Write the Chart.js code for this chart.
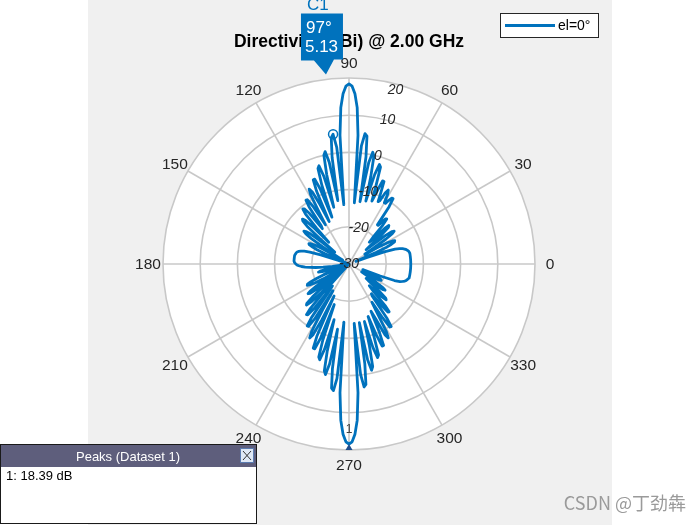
<!DOCTYPE html>
<html>
<head>
<meta charset="utf-8">
<script src="https://cdn.jsdelivr.net/npm/chart.js@4.4.1/dist/chart.umd.min.js"></script>
<style>
  html, body { margin: 0; padding: 0; background: #fff; }
  #wrap { position: relative; width: 700px; height: 525px; }
</style>
</head>
<body>
<div id="wrap"><canvas id="polar" width="700" height="525"></canvas></div>
<script>
// directivity in dBi, one value per degree, starting at 0 deg
const directivity = [
  -13.4, -13.4, -13.4, -13.4, -13.4, -13.4, -13.4, -13.4, -13.4, -13.4,   // 0
  -13.4, -13.5, -13.6, -13.8, -14.1, -14.5, -15.0, -15.8, -17.0, -20.0,   // 10
  -25.0, -28.0, -26.5, -22.0, -19.1, -17.4, -16.4, -16.2, -16.8, -18.3,   // 20
  -21.3, -25.0, -25.0, -22.5, -18.1, -15.8, -15.0, -15.5, -17.5, -22.3,   // 30
  -24.0, -22.4, -17.8, -15.5, -15.1, -16.5, -20.7, -22.0, -20.5, -16.2,   // 40
  -14.2, -14.4, -15.8, -17.0, -17.0, -11.2, -8.8, -8.9, -9.8, -11.0,      // 50
  -11.0, -8.6, -7.5, -8.6, -11.1, -11.5, -8.9, -5.9, -5.9, -9.2,          // 60
  -12.0, -7.7, -2.6, -2.0, -5.0, -12.5, -5.8, -0.2, 0.7, -2.3,            // 70
  -13.0, -0.8, 4.7, 5.3, 1.9, -13.5, 4.7, 12.1, 15.8, 17.8,               // 80
  18.4, 17.8, 15.8, 12.1, 4.7, -14.0, 1.5, 5.13, 4.3, -1.0,               // 90
  -12.7, -2.1, 0.9, 0.0, -5.2, -14.2, -5.4, -2.4, -3.0, -7.6,             // 100
  -16.6, -8.4, -5.4, -5.4, -8.6, -17.4, -12.2, -8.3, -7.2, -8.7,          // 110
  -14.2, -17.7, -11.6, -9.4, -9.3, -11.3, -17.3, -18.1, -12.8, -10.9,     // 120
  -10.7, -12.2, -16.9, -22.0, -16.6, -13.4, -12.6, -13.0, -14.9, -19.6,   // 130
  -25.0, -20.4, -16.8, -15.5, -15.0, -15.8, -17.7, -21.6, -28.0, -25.7,   // 140
  -21.9, -19.5, -18.4, -17.9, -18.1, -19.2, -20.6, -23.0, -26.8, -30.0,   // 150
  -30.0, -27.0, -22.0, -19.0, -17.5, -16.6, -16.0, -15.7, -15.5, -15.4,   // 160
  -15.3, -15.2, -15.2, -15.2, -15.2, -15.2, -15.2, -15.2, -15.3, -15.5,   // 170
  -15.7, -16.0, -16.5, -17.2, -18.2, -19.5, -21.0, -23.0, -25.5, -28.0,   // 180
  -30.0, -30.0, -27.0, -24.0, -22.0, -21.5, -22.5, -25.0, -28.0, -30.0,   // 190
  -30.0, -30.0, -26.3, -22.5, -20.3, -18.6, -17.6, -17.4, -18.0, -19.5,   // 200
  -22.0, -26.9, -30.0, -23.4, -19.5, -17.2, -16.4, -16.9, -18.8, -23.0,   // 210
  -30.0, -22.0, -16.8, -14.5, -14.1, -15.5, -19.5, -29.1, -19.7, -14.2,   // 220
  -12.2, -12.4, -15.1, -22.6, -20.4, -12.4, -9.9, -10.0, -12.8, -21.6,    // 230
  -15.8, -9.3, -7.5, -8.6, -13.3, -20.5, -8.9, -5.4, -5.4, -8.6,          // 240
  -18.4, -8.4, -3.7, -3.1, -6.1, -14.5, -5.7, -0.5, 0.4, -2.6,            // 250
  -12.2, -1.5, 3.7, 4.3, 0.9, -14.3, 4.7, 12.1, 15.8, 17.8,               // 260
  18.39, 17.8, 15.8, 12.1, 4.7, -14.0, -0.1, 3.3, 2.7, -2.8,              // 270
  -14.0, -3.8, -0.8, -1.7, -7.3, -14.0, -6.7, -3.7, -4.3, -9.4,           // 280
  -15.0, -9.8, -6.2, -6.2, -9.9, -16.0, -13.4, -8.6, -7.5, -9.4,          // 290
  -15.5, -18.0, -12.9, -9.8, -9.7, -12.3, -19.4, -20.0, -16.2, -13.4,     // 300
  -13.2, -15.2, -20.4, -22.0, -20.4, -17.5, -16.1, -16.5, -18.8, -22.8,   // 310
  -24.0, -23.5, -20.5, -18.5, -18.0, -18.8, -21.1, -24.7, -26.0, -26.0,   // 320
  -24.4, -22.4, -20.9, -20.3, -20.5, -21.5, -23.2, -25.4, -26.0, -21.0,   // 330
  -17.0, -15.5, -14.8, -14.3, -14.0, -13.8, -13.6, -13.4, -13.4, -13.4,   // 340
  -13.4, -13.4, -13.4, -13.4, -13.4, -13.4, -13.4, -13.4, -13.4, -13.4    // 350
];
const angleTicks = [0, 30, 60, 90, 120, 150, 180, 210, 240, 270, 300, 330];
const radialTicks = [-30, -20, -10, 0, 10, 20];
const seriesName = 'el=0°';
const chartTitle = 'Directivity (dBi) @ 2.00 GHz';
const cursorAngle = 97;   // data cursor C1
const peakAngle = 270;    // peak marker 1
const tickLabelAngle = 75;

const blue = '#0072BD';
const gridGray = '#c8c8c8';
const textColor = '#262626';

// radar goes clockwise from the top; the polar pattern has 90 on top and turns counter-clockwise
const indexOf = a => (450 - a) % 360;
const order = Array.from({ length: 360 }, (_, i) => (450 - i) % 360);
const labels = order.map(a => String(a));
const values = order.map(a => directivity[a]);

const polarDecor = {
  id: 'polarDecor',
  beforeDraw(chart) {
    const ctx = chart.ctx;
    ctx.save();
    ctx.fillStyle = '#ffffff';
    ctx.fillRect(0, 0, chart.width, chart.height);
    ctx.fillStyle = '#f0f0f0';
    ctx.fillRect(88, 0, 524, chart.height);
    ctx.restore();
  },
  afterDraw(chart) {
    const ctx = chart.ctx;
    const r = chart.scales.r;
    ctx.save();

    // angle labels
    ctx.fillStyle = textColor;
    ctx.font = '15.5px "Liberation Sans", Arial, sans-serif';
    ctx.textAlign = 'center';
    ctx.textBaseline = 'middle';
    angleTicks.forEach(a => {
      const p = r.getPointPosition(indexOf(a), r.drawingArea + 15);
      ctx.fillText(String(a), p.x, p.y + 1);
    });

    // radial tick labels
    ctx.font = 'italic 14px "Liberation Sans", Arial, sans-serif';
    radialTicks.forEach(v => {
      const d = Math.min(r.getDistanceFromCenterForValue(v), r.drawingArea - 6);
      const p = r.getPointPosition(indexOf(tickLabelAngle), d);
      ctx.fillText(String(v), p.x, p.y);
    });

    // title
    ctx.fillStyle = '#000';
    ctx.font = 'bold 17.5px "Liberation Sans", Arial, sans-serif';
    ctx.fillText(chartTitle, r.xCenter, 42);

    // legend
    ctx.fillStyle = '#fff';
    ctx.fillRect(500.5, 13.5, 98, 24);
    ctx.strokeStyle = '#262626';
    ctx.lineWidth = 1;
    ctx.strokeRect(500.5, 13.5, 98, 24);
    ctx.strokeStyle = blue;
    ctx.lineWidth = 2.8;
    ctx.beginPath();
    ctx.moveTo(505, 25.5);
    ctx.lineTo(555, 25.5);
    ctx.stroke();
    ctx.fillStyle = '#000';
    ctx.font = '14px "Liberation Sans", Arial, sans-serif';
    ctx.textAlign = 'left';
    ctx.fillText(seriesName, 558, 26);

    // data cursor C1
    const cv = directivity[cursorAngle];
    const mp = r.getPointPositionForValue(indexOf(cursorAngle), cv);
    ctx.strokeStyle = blue;
    ctx.lineWidth = 1.5;
    ctx.beginPath();
    ctx.arc(mp.x, mp.y, 4.5, 0, Math.PI * 2);
    ctx.stroke();

    const tip = r.getPointPosition(indexOf(cursorAngle), r.drawingArea + 3);
    ctx.fillStyle = blue;
    ctx.beginPath();
    ctx.moveTo(tip.x - 25, tip.y - 63);
    ctx.lineTo(tip.x + 17, tip.y - 63);
    ctx.lineTo(tip.x + 17, tip.y - 17);
    ctx.lineTo(tip.x + 8, tip.y - 17);
    ctx.lineTo(tip.x, tip.y - 2);
    ctx.lineTo(tip.x - 12, tip.y - 16);
    ctx.lineTo(tip.x - 25, tip.y - 16);
    ctx.closePath();
    ctx.fill();
    ctx.fillStyle = '#fff';
    ctx.font = '17px "Liberation Sans", Arial, sans-serif';
    ctx.fillText(cursorAngle + '°', tip.x - 20, tip.y - 48);
    ctx.fillText(cv.toFixed(2), tip.x - 21, tip.y - 29);
    ctx.fillStyle = blue;
    ctx.fillText('C1', tip.x - 19, tip.y - 71);

    // peak marker
    const pv = directivity[peakAngle];
    const pp = r.getPointPositionForValue(indexOf(peakAngle), pv);
    ctx.fillStyle = '#1f4e8c';
    ctx.beginPath();
    ctx.moveTo(pp.x, pp.y);
    ctx.lineTo(pp.x + 3.5, pp.y + 6);
    ctx.lineTo(pp.x - 3.5, pp.y + 6);
    ctx.closePath();
    ctx.fill();
    ctx.fillStyle = '#404040';
    ctx.font = '12px "Liberation Sans", Arial, sans-serif';
    ctx.textAlign = 'center';
    ctx.fillText('1', pp.x, pp.y - 14);

    // peaks panel
    ctx.fillStyle = '#fff';
    ctx.fillRect(0, 444, 257, 80);
    ctx.fillStyle = '#5e5e7c';
    ctx.fillRect(0, 444, 257, 23);
    ctx.strokeStyle = '#1a1a1a';
    ctx.lineWidth = 1;
    ctx.strokeRect(0.5, 444.5, 256, 79);
    ctx.fillStyle = '#fff';
    ctx.font = '13px "Liberation Sans", Arial, sans-serif';
    ctx.fillText('Peaks (Dataset 1)', 128, 457);
    ctx.fillStyle = '#dfe8f5';
    ctx.fillRect(240, 448, 14, 15);
    ctx.strokeStyle = '#5a7bb0';
    ctx.strokeRect(240.5, 448.5, 13, 14);
    ctx.strokeStyle = '#333';
    ctx.beginPath();
    ctx.moveTo(243, 451); ctx.lineTo(251, 460);
    ctx.moveTo(251, 451); ctx.lineTo(243, 460);
    ctx.stroke();
    ctx.fillStyle = '#000';
    ctx.textAlign = 'left';
    ctx.fillText('1: ' + pv.toFixed(2) + ' dB', 6, 476);

    // watermark
    ctx.fillStyle = '#9a9a9a';
    ctx.font = '18px "Noto Sans CJK SC", sans-serif';
    ctx.textAlign = 'right';
    ctx.fillText('CSDN @丁劲犇', 686, 503);

    ctx.restore();
  }
};

new Chart(document.getElementById('polar'), {
  type: 'radar',
  data: {
    labels: labels,
    datasets: [{
      label: seriesName,
      data: values,
      borderColor: blue,
      borderWidth: 2.8,
      borderJoinStyle: 'round',
      pointRadius: 0,
      pointHoverRadius: 0,
      fill: false,
      tension: 0
    }]
  },
  options: {
    responsive: false,
    animation: false,
    layout: { padding: { left: 163, right: 164, top: 78, bottom: 75 } },
    plugins: {
      legend: { display: false },
      title: { display: false },
      tooltip: { enabled: false }
    },
    scales: {
      r: {
        min: -30,
        max: 20,
        backgroundColor: '#ffffff',
        ticks: { display: false, stepSize: 10 },
        pointLabels: { display: false },
        grid: { circular: true, color: gridGray, lineWidth: 1.6 },
        angleLines: {
          display: true,
          color: gridGray,
          lineWidth: ctx => (ctx.index % 30 === 0 ? 1.6 : 0)
        }
      }
    }
  },
  plugins: [polarDecor]
});
</script>
</body>
</html>
